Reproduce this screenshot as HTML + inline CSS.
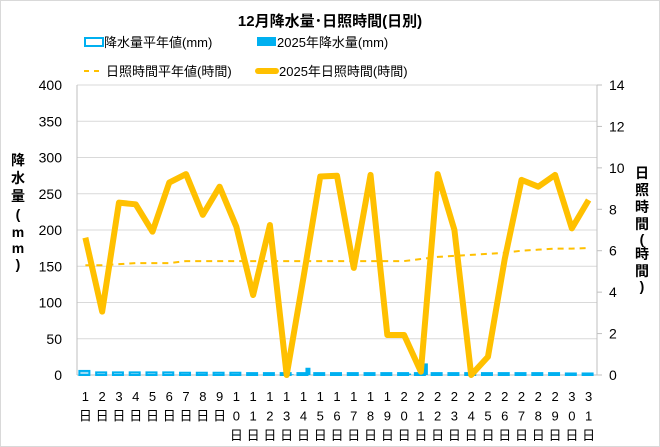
<!DOCTYPE html>
<html><head><meta charset="utf-8"><style>
html,body{margin:0;padding:0;background:#fff}
svg{display:block;font-family:"Liberation Sans","Noto Sans CJK JP",sans-serif}
</style></head><body>
<svg id="c" width="660" height="447" viewBox="0 0 660 447" xmlns="http://www.w3.org/2000/svg">
<rect x="0.5" y="0.5" width="659" height="446" fill="#fff" stroke="#d9d9d9"/>
<text x="330" y="26" text-anchor="middle" font-size="15" font-weight="bold" fill="#000">12月降水量･日照時間(日別)</text>
<g>
<g><rect x="85" y="38" width="18" height="8" fill="#fff" stroke="#00b0f0" stroke-width="2"/><text x="104" y="47" font-size="13">降水量平年値(mm)</text></g>
<g><rect x="257" y="37" width="19" height="9" fill="#00b0f0"/><text x="277" y="47" font-size="13">2025年降水量(mm)</text></g>
<g><line x1="84" y1="71" x2="104" y2="71" stroke="#ffc000" stroke-width="2" stroke-dasharray="5,5"/><text x="106" y="76" font-size="13">日照時間平年値(時間)</text></g>
<g><line x1="258" y1="71" x2="276" y2="71" stroke="#ffc000" stroke-width="6" stroke-linecap="round"/><text x="279" y="76" font-size="13">2025年日照時間(時間)</text></g>
</g>
<text transform="translate(18,160)" font-size="14" font-weight="bold"><tspan x="0" y="0" text-anchor="middle" dy="5">降</tspan><tspan x="0" dy="18" text-anchor="middle">水</tspan><tspan x="0" dy="18" text-anchor="middle">量</tspan><tspan x="0" dy="18" text-anchor="middle">(</tspan><tspan x="0" dy="18" text-anchor="middle">m</tspan><tspan x="0" dy="16" text-anchor="middle">m</tspan><tspan x="0" dy="16" text-anchor="middle">)</tspan></text>
<text transform="translate(642,178)" font-size="14" font-weight="bold"><tspan x="0" y="0" text-anchor="middle">日</tspan><tspan x="0" dy="17" text-anchor="middle">照</tspan><tspan x="0" dy="17" text-anchor="middle">時</tspan><tspan x="0" dy="17" text-anchor="middle">間</tspan><tspan x="0" dy="15" text-anchor="middle">(</tspan><tspan x="0" dy="15" text-anchor="middle">時</tspan><tspan x="0" dy="17" text-anchor="middle">間</tspan><tspan x="0" dy="15" text-anchor="middle">)</tspan></text>
<g id="plot"></g>
</svg>
<script>
const days = [1,2,3,4,5,6,7,8,9,10,11,12,13,14,15,16,17,18,19,20,21,22,23,24,25,26,27,28,29,30,31];
const precipNormal = [7,5,5,5,5,5,4.5,4.5,4.5,4.5,4,4,4,4,4,4,4,4,4,4,4,4,4,4,4,4,4,4,4,3.5,3.5];
const precip2025 = [0,0,0,0,0,0,0,0,0,0,0,0,1,10,0,0,0,0,0,2,16,0,0,0,0,0,0,0,0,0,0];
const sunNormal = [5.3,5.3,5.35,5.4,5.4,5.4,5.5,5.5,5.5,5.5,5.5,5.5,5.5,5.5,5.5,5.5,5.5,5.5,5.5,5.5,5.6,5.7,5.75,5.8,5.85,5.9,6.0,6.05,6.1,6.1,6.13];
const sun2025 = [6.63,3.06,8.32,8.24,6.92,9.29,9.7,7.73,9.09,7.16,3.86,7.24,0,4.7,9.58,9.62,5.17,9.66,1.93,1.93,0.16,9.7,7.0,0,0.88,5.6,9.42,9.09,9.66,7.08,8.45];
const leftTicks = [0,50,100,150,200,250,300,350,400];
const rightTicks = [0,2,4,6,8,10,12,14];

const NS="http://www.w3.org/2000/svg";
const X0=77,X1=597,Y0=375,Y1=85;
const band=(X1-X0)/days.length;
const xc=i=>X0+band*(i+0.5);
const yL=v=>Y0-(v/400)*(Y0-Y1);
const yR=v=>Y0-(v/14)*(Y0-Y1);
const g=document.getElementById('plot');
function mk(t,a){const e=document.createElementNS(NS,t);for(const k in a)e.setAttribute(k,a[k]);g.appendChild(e);return e;}

leftTicks.forEach(v=>{
  if(v>0){const l=mk('line',{x1:X0,x2:X1,y1:yL(v),y2:yL(v),stroke:'#d9d9d9','stroke-width':1});
  
  }
  const t=mk('text',{x:X0-15,y:yL(v)+5,'text-anchor':'end','font-size':14,fill:'#000'});
  t.textContent=v;
  
  
});
rightTicks.forEach(v=>{
  const tk=mk('line',{x1:X1,x2:X1+5,y1:yR(v),y2:yR(v),stroke:'#bfbfbf'});
  
  
  const t=mk('text',{x:X1+12,y:yR(v)+5,'font-size':14,fill:'#000'});
  t.textContent=v;
  
  
});
const ax=mk('line',{x1:X0,x2:X0,y1:Y1,y2:Y0,stroke:'#bfbfbf'});


const ax2=mk('line',{x1:X1,x2:X1,y1:Y1,y2:Y0,stroke:'#bfbfbf'});


const ax3=mk('line',{x1:X0,x2:X1,y1:Y0,y2:Y0,stroke:'#bfbfbf'});



days.forEach((d,i)=>{
  const h=Y0-yL(precipNormal[i]);
  const b=mk('rect',{x:xc(i)-6,y:yL(precipNormal[i])+1,width:10,height:Math.max(h-1,0),fill:'#9fdcf5',stroke:'#00b0f0','stroke-width':2});
  
  
  const h2=Y0-yL(precip2025[i]);
  const b2=mk('rect',{x:xc(i)+2,y:yL(precip2025[i]),width:5,height:h2,fill:'#00b0f0'});
  
  
  const s=String(d);const chars=s.split('').concat(['日']);
  chars.forEach((c,k)=>{
    const t=mk('text',{x:xc(i),y:401+k*19.5,'text-anchor':'middle','font-size':13,fill:'#000'});
    t.textContent=c;
    
    
  });
});
const pn=mk('polyline',{points:sunNormal.map((v,i)=>xc(i)+','+yR(v)).join(' '),fill:'none',stroke:'#ffc000','stroke-width':2,'stroke-dasharray':'6,5'});


const ps=mk('polyline',{points:sun2025.map((v,i)=>xc(i)+','+yR(v)).join(' '),fill:'none',stroke:'#ffc000','stroke-width':6,'stroke-linejoin':'round'});


</script>
</body></html>
